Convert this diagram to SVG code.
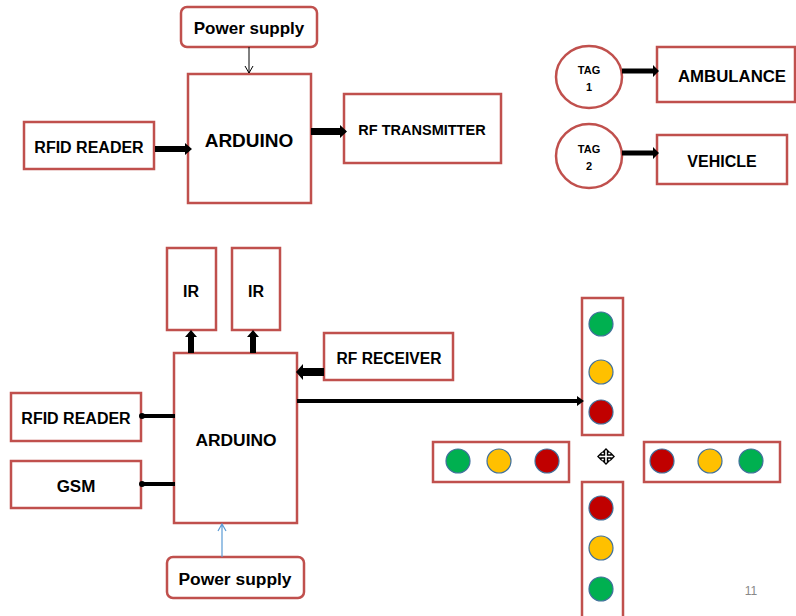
<svg xmlns="http://www.w3.org/2000/svg" width="796" height="616" viewBox="0 0 796 616">
<defs>
<style>
.box{fill:#fff;stroke:#C0504D;stroke-width:2.5}
.t{font-family:"Liberation Sans",Arial,sans-serif;font-weight:bold;fill:#000;text-anchor:middle}
.g{fill:#00B050;stroke:#41719C;stroke-width:1.2}
.y{fill:#FFC000;stroke:#41719C;stroke-width:1.2}
.r{fill:#C00000;stroke:#41719C;stroke-width:1.2}
.thin{fill:none;stroke:#000;stroke-width:1}
.blue{fill:none;stroke:#5B9BD5;stroke-width:1.2}
</style>
</defs>
<rect width="796" height="616" fill="#fff"/>

<!-- top section -->
<g id="power1"><rect class="box" x="181" y="7" width="136" height="40" rx="6"/><text class="t" x="249" y="34" font-size="17">Power supply</text></g>
<g id="arduino1"><rect class="box" x="188" y="74" width="123" height="129"/><text class="t" x="249" y="147" font-size="19">ARDUINO</text></g>
<g id="rfid1"><rect class="box" x="24" y="122" width="130" height="47"/><text class="t" x="89" y="153" font-size="16">RFID READER</text></g>
<g id="rftx"><rect class="box" x="344" y="94" width="157" height="69"/><text class="t" x="422" y="135" font-size="14.5">RF TRANSMITTER</text></g>
<g id="tag1"><ellipse class="box" cx="589" cy="77" rx="33" ry="31"/><text class="t" x="589" y="74" font-size="11">TAG</text><text class="t" x="589" y="91" font-size="11">1</text></g>
<g id="ambulance"><rect class="box" x="657" y="47" width="138" height="55"/><text class="t" x="732" y="82" font-size="16.8">AMBULANCE</text></g>
<g id="tag2"><ellipse class="box" cx="589" cy="156" rx="33" ry="32"/><text class="t" x="589" y="153" font-size="11">TAG</text><text class="t" x="589" y="170" font-size="11">2</text></g>
<g id="vehicle"><rect class="box" x="657" y="135" width="130" height="49"/><text class="t" x="722" y="167" font-size="16">VEHICLE</text></g>

<!-- bottom section -->
<g id="ir1"><rect class="box" x="167" y="248" width="49" height="82"/><text class="t" x="191" y="297" font-size="16">IR</text></g>
<g id="ir2"><rect class="box" x="232" y="248" width="48" height="82"/><text class="t" x="256" y="297" font-size="16">IR</text></g>
<g id="arduino2"><rect class="box" x="174" y="353" width="123" height="170"/><text class="t" x="236" y="446" font-size="17.4">ARDUINO</text></g>
<g id="rfrx"><rect class="box" x="324" y="333" width="129" height="47"/><text class="t" x="389" y="364" font-size="15.6">RF RECEIVER</text></g>
<g id="rfid2"><rect class="box" x="11" y="393" width="130" height="48"/><text class="t" x="76" y="424" font-size="16">RFID READER</text></g>
<g id="gsm"><rect class="box" x="11" y="461" width="130" height="47"/><text class="t" x="76" y="492" font-size="17">GSM</text></g>
<g id="power2"><rect class="box" x="167" y="557" width="137" height="41" rx="6"/><text class="t" x="235" y="585" font-size="17.4">Power supply</text></g>

<!-- traffic lights -->
<g id="light-top"><rect class="box" x="582" y="298" width="41" height="137"/><circle class="g" cx="601" cy="324" r="12"/><circle class="y" cx="601" cy="372" r="12"/><circle class="r" cx="601" cy="412" r="12"/></g>
<g id="light-left"><rect class="box" x="433" y="442" width="136" height="40"/><circle class="g" cx="458" cy="461" r="12"/><circle class="y" cx="499" cy="461" r="12"/><circle class="r" cx="547" cy="461" r="12"/></g>
<g id="light-right"><rect class="box" x="644" y="442" width="136" height="40"/><circle class="r" cx="662" cy="461" r="12"/><circle class="y" cx="710" cy="461" r="12"/><circle class="g" cx="751" cy="461" r="12"/></g>
<g id="light-bottom"><rect class="box" x="582" y="482" width="41" height="140"/><circle class="r" cx="601" cy="508" r="12"/><circle class="y" cx="601" cy="548" r="12"/><circle class="g" cx="601" cy="589" r="12"/></g>

<!-- connectors -->
<g id="connectors">
<path class="thin" d="M249 47V73M245 66L249 73L253 66"/>
<polygon points="155,146 185,146 185,143 192,149 185,155 185,152 155,152" fill="#000"/>
<polygon points="311,128 340,128 340,125 347,131.5 340,138 340,135 311,135" fill="#000"/>
<polygon points="622,68.5 653,68.5 653,65 659,71 653,77 653,73.5 622,73.5" fill="#000"/>
<polygon points="622,150.5 653,150.5 653,147 659,153 653,159 653,155.5 622,155.5" fill="#000"/>
<polygon points="188,353 188,337 185,337 191,330 197,337 194,337 194,353" fill="#000"/>
<polygon points="250,353 250,337 247,337 253,330 259,337 256,337 256,353" fill="#000"/>
<polygon points="324,368 303,368 303,364 296,372 303,380 303,376 324,376" fill="#000"/>
<polygon points="297,399 577,399 577,396 584,401 577,406 577,403 297,403" fill="#000"/>
<line x1="141" y1="416" x2="175" y2="416" stroke="#000" stroke-width="4"/><circle cx="142" cy="416" r="3"/>
<line x1="141" y1="484" x2="175" y2="484" stroke="#000" stroke-width="4"/><circle cx="142" cy="484" r="3"/>
<path class="blue" d="M222 557V524M218 531L222 524L226 531"/>
</g>

<!-- cursor icon -->
<path d="M606 449L609 452H607.5V455H611V453.5L614 456.5L611 459.5V458H607.5V461H609L606 464L603 461H604.5V458H601V459.5L598 456.5L601 453.5V455H604.5V452H603Z" fill="#fff" stroke="#000" stroke-width="1.4"/>

<text x="751" y="595" font-family="Liberation Sans,Arial,sans-serif" font-size="12" fill="#888" text-anchor="middle">11</text>
</svg>
